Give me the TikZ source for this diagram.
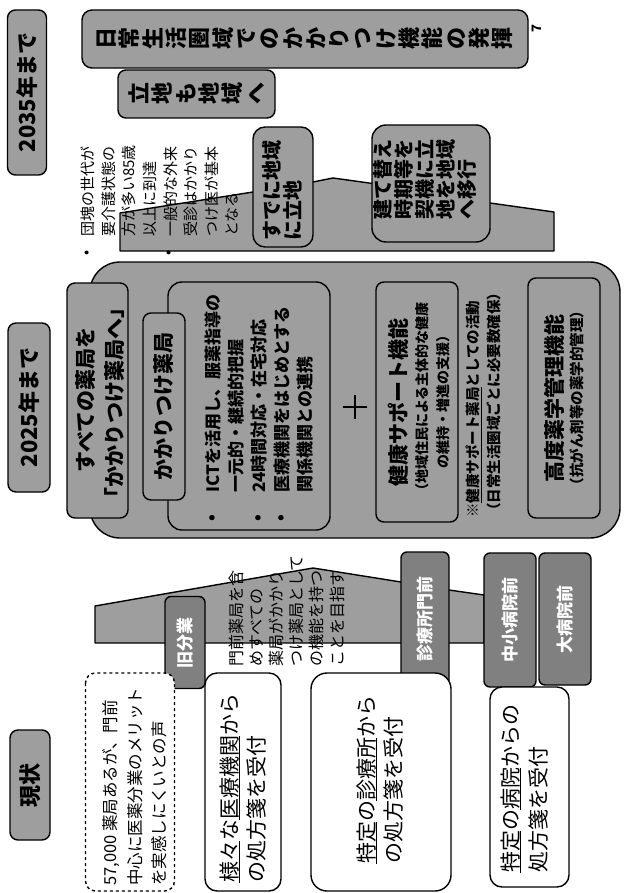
\documentclass[tikz,border=0pt]{standalone}
\usepackage{fontspec}
\setmainfont{Noto Sans CJK JP}
\definecolor{g}{gray}{0.62}
\definecolor{gd}{gray}{0.5}
\newcommand{\fsz}[1]{\fontsize{#1}{#1}\selectfont}
\newcommand{\myul}[1]{\setbox0\hbox{#1}\rlap{\rule[-3pt]{\wd0}{1.1pt}}\box0}
\tikzset{
 gb/.style={draw, line width=1.4pt, fill=g, rounded corners=8pt, rotate=90, inner sep=0pt, align=center},
 wb/.style={draw, line width=1.4pt, fill=white, rounded corners=12pt, rotate=90, inner sep=0pt},
 sz/.style 2 args={minimum width=#2, minimum height=#1},
 ln/.style={rotate=90, anchor=west, inner sep=0pt},
 lc/.style={rotate=90, anchor=center, inner sep=0pt},
 tabbox/.style={gb, fill=gd, rounded corners=6pt, text=white, font=\bfseries\fsz{17}},
 ttl/.style={font=\bfseries\fsz{22}},
 ridge/.style={draw, line width=1.4pt, fill=g, line join=round},
}
\begin{document}
\begin{tikzpicture}[x=1pt,y=-1pt]
\useasboundingbox (0,0) rectangle (630,893);
\fill[white] (0,0) rectangle (630,893);

% ================= 2035
\node[gb, sz={39}{165}, ttl] (y2035) at (27,92.5) {2035年まで};
\node[gb, rounded corners=10pt, sz={446}{58}, font=\bfseries\fontsize{22}{23.3}\selectfont] (goal) at (305,39)
 {日\\常\\生\\活\\圏\\域\\で\\の\\か\\か\\り\\つ\\け\\機\\能\\の\\発\\揮};
\node[gb, sz={157}{48}, font=\bfseries\fontsize{22}{23.3}\selectfont] (ricchi) at (196.5,94)
 {立\\地\\も\\地\\域\\へ};
\node[lc, font=\bfseries\fsz{13}] (pg) at (537,29) {7};

\draw[ridge] (120,251) -- (120,213) -- (253,192) -- (313,182) -- (333,178) -- (369,183)
 -- (490,203) -- (554,212) -- (554,251) -- cycle;
\node[gb, rounded corners=12pt, sz={60}{120}] (sude) at (283,187) {};
\node[ln, font=\bfseries\fsz{20}] (sude1) at (272,241) {すでに地域};
\node[ln, font=\bfseries\fsz{20}] (sude2) at (293,241) {に立地};
\node[gb, rounded corners=14pt, sz={118}{117}] (tate) at (431,183.5) {};
\node[ln, font=\bfseries\fsz{20}] (tate1) at (383,220) {建て替え};
\node[ln, font=\bfseries\fsz{20}] (tate2) at (404,220) {時期等を};
\node[ln, font=\bfseries\fsz{20}] (tate3) at (425,220) {契機に立};
\node[ln, font=\bfseries\fsz{20}] (tate4) at (446,220) {地を地域};
\node[ln, font=\bfseries\fsz{20}] (tate5) at (467,220) {へ移行};

\node[lc, font=\fsz{15}] (b1) at (88,253) {•};
\node[lc, font=\fsz{15}] (b2) at (170,253) {•};
\node[ln, font=\fsz{15}] (d1) at (88,237) {団塊の世代が};
\node[ln, font=\fsz{15}] (d2) at (108.6,237) {要介護状態の};
\node[ln, font=\fsz{15}] (d3) at (129.2,237) {方が多い85歳};
\node[ln, font=\fsz{15}] (d4) at (149.8,237) {以上に到達};
\node[ln, font=\fsz{15}] (d5) at (170.4,237) {一般的な外来};
\node[ln, font=\fsz{15}] (d6) at (191,237) {受診はかかり};
\node[ln, font=\fsz{15}] (d7) at (211.6,237) {つけ医が基本};
\node[ln, font=\fsz{15}] (d8) at (232.2,237) {となる};

% ================= 2025
\node[gb, sz={42}{169}, ttl] (y2025) at (29,407.5) {2025年まで};
\node[gb, rounded corners=30pt, sz={530}{276}] (panel) at (355,400) {};
\node[gb, rounded corners=14pt, sz={162}{248}] (ict) at (249,406) {};
\node[gb, sz={61}{235}] (subete) at (97.5,400.5) {};
\node[lc, font=\bfseries\fsz{21}] (sub1) at (86,400) {すべての薬局を};
\node[lc, font=\bfseries\fsz{21}] (sub2) at (115,403) {「かかりつけ薬局へ」};
\node[gb, sz={42}{187}, font=\bfseries\fsz{21}] (kakari) at (164,406.5) {かかりつけ薬局};

\node[lc, font=\bfseries\fsz{17}] (ib1) at (214,518) {•};
\node[lc, font=\bfseries\fsz{17}] (ib2) at (260,518) {•};
\node[lc, font=\bfseries\fsz{17}] (ib3) at (283,518) {•};
\node[ln, font=\bfseries\fsz{17}] (i1) at (213,493) {ICTを活用し、服薬指導の};
\node[ln, font=\bfseries\fsz{17}] (i2) at (236,493) {一元的・継続的把握};
\node[ln, font=\bfseries\fsz{17}] (i3) at (259,493) {24時間対応・在宅対応};
\node[ln, font=\bfseries\fsz{17}] (i4) at (282,493) {医療機関をはじめとする};
\node[ln, font=\bfseries\fsz{17}] (i5) at (305,493) {関係機関との連携};

\draw[line width=2.5pt] (343,407) -- (367,407) (355,395) -- (355,419);

\node[gb, sz={82}{240}] (kenko) at (417,402) {};
\node[lc, font=\bfseries\fsz{21}] (k1) at (398,402) {健康サポート機能};
\node[lc, font=\bfseries\fsz{14}] (k2) at (422,400) {（地域住民による主体的な健康};
\node[lc, font=\bfseries\fsz{14}] (k3) at (443,398) {の維持・増進の支援）};
\node[ln, font=\bfseries\fsz{14.5}] (n1) at (474,518) {※\myul{健康サポート薬局}としての活動};
\node[ln, font=\bfseries\fsz{14.5}] (n2) at (494,518) {（日常生活圏域ごとに必要数確保）};
\node[gb, sz={72}{240}] (kodo) at (564,398) {};
\node[lc, font=\bfseries\fsz{21}] (h1) at (554,398) {高度薬学管理機能};
\node[lc, font=\bfseries\fsz{14.5}] (h2) at (577,398) {（抗がん剤等の薬学的管理）};

% ================= now
\node[gb, sz={40}{110}, ttl] (ynow) at (30,785) {現状};
\draw[ridge] (95,643) -- (95,606) -- (313,568) -- (401,582) -- (449,590) -- (484,595) -- (484,643) -- cycle;
\node[ln, font=\fsz{16}] (m1) at (236,667) {門前薬局を含};
\node[ln, font=\fsz{16}] (m2) at (256.2,667) {めすべての};
\node[ln, font=\fsz{16}] (m3) at (276.4,667) {薬局がかかり};
\node[ln, font=\fsz{16}] (m4) at (296.6,667) {つけ薬局として};
\node[ln, font=\fsz{16}] (m5) at (316.8,667) {の機能を持つ};
\node[ln, font=\fsz{16}] (m6) at (337,667) {ことを目指す};

\node[tabbox, sz={40}{92}] (t1) at (185,642.5) {旧分業};
\node[tabbox, sz={48}{134}] (t2) at (425,619) {診療所門前};
\node[tabbox, sz={52}{134}] (t3) at (510,620) {中小病院前};
\node[tabbox, sz={52}{132}] (t4) at (565,619) {大病院前};

\node[wb, dashed, rounded corners=10pt, sz={89}{218}] (dash) at (130,782) {};
\node[ln, font=\fsz{16.5}] (p1) at (111,886) {57,000 薬局あるが、門前};
\node[ln, font=\fsz{16.5}] (p2) at (135,886) {中心に医薬分業のメリット};
\node[ln, font=\fsz{16.5}] (p3) at (159,886) {を実感しにくいとの声};

\node[wb, sz={76}{218}] (sama) at (243,782) {};
\node[ln, font=\fsz{21}] (s1) at (230,883) {\myul{様々}な\myul{医療機関}から};
\node[ln, font=\fsz{21}] (s2) at (257,883) {の処方箋を受付};

\node[wb, rounded corners=16pt, sz={140}{218}] (shin) at (381,782) {};
\node[ln, font=\fsz{21}] (c1) at (367,864) {\myul{特定}の\myul{診療所}から};
\node[ln, font=\fsz{21}] (c2) at (394,864) {の処方箋を受付};

\node[wb, sz={79}{200}] (byo) at (529.5,787) {};
\node[ln, font=\fsz{21}] (h3) at (511,873) {\myul{特定}の\myul{病院}からの};
\node[ln, font=\fsz{21}] (h4) at (538,873) {処方箋を受付};
\end{tikzpicture}
\end{document}
